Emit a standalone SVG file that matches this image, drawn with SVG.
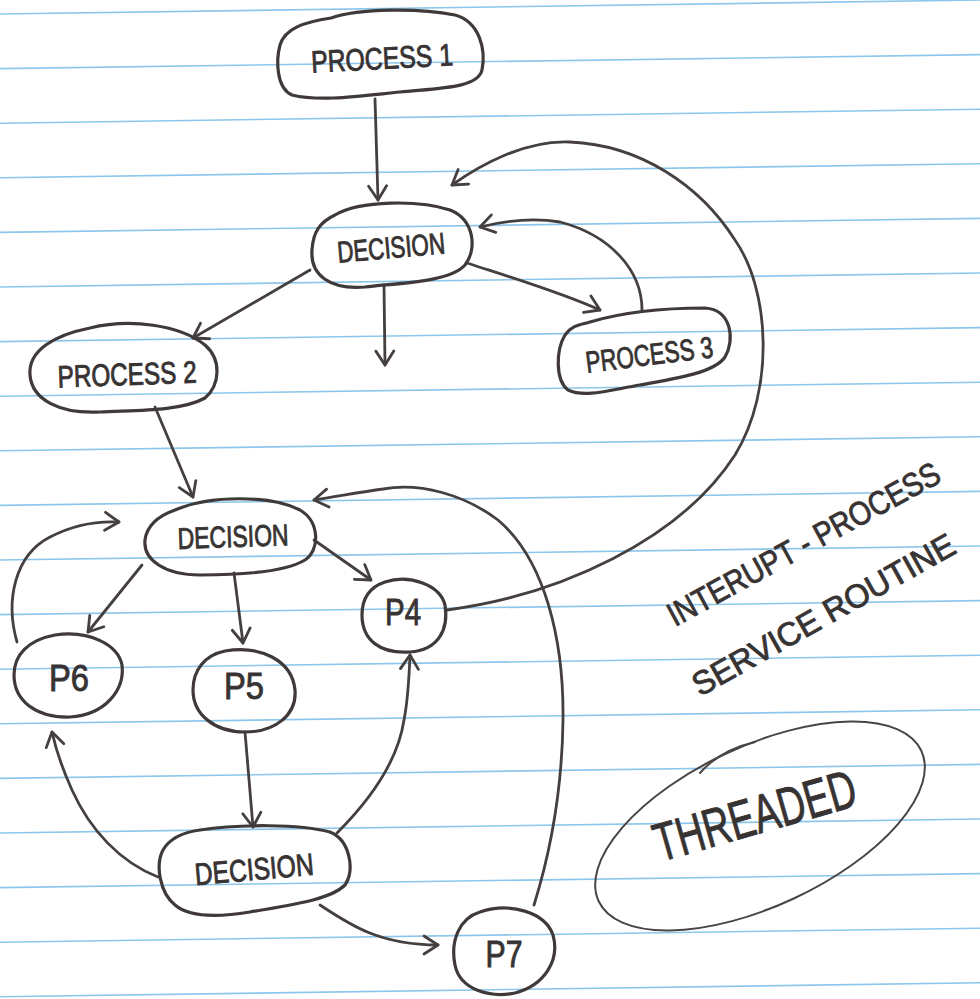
<svg xmlns="http://www.w3.org/2000/svg" width="980" height="999" viewBox="0 0 980 999">
<defs>
<style>
.rule{stroke:#8cc6ea;stroke-width:1.6;fill:none}
.ink{fill:none;stroke:#3f3a39;stroke-width:3.2;stroke-linecap:round;stroke-linejoin:round}
.edge{fill:none;stroke:#45403f;stroke-width:2.8;stroke-linecap:round;marker-end:url(#ah)}
.lbl{font-family:"Liberation Sans","DejaVu Sans",Arial,sans-serif;fill:#383333;stroke:#383333;stroke-width:0.9}
.thin{fill:none;stroke:#4a4545;stroke-width:2;stroke-linecap:round}
</style>
<marker id="ah" markerUnits="userSpaceOnUse" markerWidth="34" markerHeight="34" viewBox="-17 -17 34 34" refX="0" refY="0" orient="auto" overflow="visible">
<path d="M -14,-9 L 0,0 L -14,9" fill="none" stroke="#45403f" stroke-width="2.8" stroke-linecap="round" stroke-linejoin="round"/>
</marker>
</defs>
<rect width="980" height="999" fill="#ffffff"/>
<g id="paper">
<path class="rule" d="M0,14 L980,0"/>
<path class="rule" d="M0,68.6 L980,54.6"/>
<path class="rule" d="M0,123.2 L980,109.2"/>
<path class="rule" d="M0,177.8 L980,163.8"/>
<path class="rule" d="M0,232.4 L980,218.4"/>
<path class="rule" d="M0,287 L980,273"/>
<path class="rule" d="M0,341.6 L980,327.6"/>
<path class="rule" d="M0,396.2 L980,382.2"/>
<path class="rule" d="M0,450.8 L980,436.8"/>
<path class="rule" d="M0,505.4 L980,491.4"/>
<path class="rule" d="M0,560 L980,546"/>
<path class="rule" d="M0,614.6 L980,600.6"/>
<path class="rule" d="M0,669.2 L980,655.2"/>
<path class="rule" d="M0,723.8 L980,709.8"/>
<path class="rule" d="M0,778.4 L980,764.4"/>
<path class="rule" d="M0,833 L980,819"/>
<path class="rule" d="M0,887.6 L980,873.6"/>
<path class="rule" d="M0,942.2 L980,928.2"/>
<path class="rule" d="M0,996.8 L980,982.8"/>
</g>
<g id="connectors">
<path class="edge" d="M375,99 L378,200"/>
<path class="edge" d="M310,270 L193,338"/>
<path class="edge" d="M384,285 L385,365"/>
<path class="edge" d="M467,263 C510,277 560,292 600,310"/>
<path class="edge" d="M642,310 C642,270 610,235 560,222 C530,217 500,222 480,227"/>
<path class="edge" d="M447,610 C560,595 680,540 735,455 C775,390 770,290 735,240 C700,185 640,145 570,142 C525,140 480,165 452,185"/>
<path class="edge" d="M155,407 L193,497"/>
<path class="edge" d="M142,565 L88,632"/>
<path class="edge" d="M17,642 C5,600 15,555 50,537 C75,524 100,521 119,522"/>
<path class="edge" d="M234,573 L243,643"/>
<path class="edge" d="M314,540 L371,580"/>
<path class="edge" d="M534,905 C548,860 562,800 563,720 C564,640 545,560 498,520 C465,495 420,482 383,489 C360,492 335,497 314,500"/>
<path class="edge" d="M245,732 L253,827"/>
<path class="edge" d="M158,877 C120,862 90,830 72,790 C62,768 56,750 52,732"/>
<path class="edge" d="M337,833 C370,800 398,760 404,720 C408,700 409,680 410,655"/>
<path class="edge" d="M320,905 C350,925 380,945 438,945"/>
</g>
<g id="process1">
<path class="ink" d="M331,18 C360,8 420,8 455,15 C480,22 486,50 482,70 C478,88 440,88 400,92 C360,96 320,102 292,95 C276,88 276,60 280,45 C285,28 305,22 331,18 Z"/>
<text class="lbl" x="382" y="69" font-size="31" text-anchor="middle" textLength="142" lengthAdjust="spacingAndGlyphs" transform="rotate(-3 382 58)">PROCESS 1</text>
</g>
<g id="decision1">
<path class="ink" d="M335,215 C360,200 420,200 450,210 C475,220 477,250 465,265 C450,282 400,283 365,287 C330,290 310,275 312,250 C313,232 320,222 335,215 Z"/>
<text class="lbl" x="391" y="258" font-size="30" text-anchor="middle" textLength="108" lengthAdjust="spacingAndGlyphs" transform="rotate(-5 391 247)">DECISION</text>
</g>
<g id="process2">
<path class="ink" d="M90,328 C130,318 180,325 205,345 C222,360 220,385 205,398 C180,412 130,410 100,412 C60,414 32,400 30,375 C28,350 55,335 90,328 Z"/>
<text class="lbl" x="127" y="385" font-size="31" text-anchor="middle" textLength="139" lengthAdjust="spacingAndGlyphs" transform="rotate(-2 127 372)">PROCESS 2</text>
</g>
<g id="process3">
<path class="ink" d="M590,322 C630,310 680,308 705,308 C732,310 735,340 725,357 C715,372 680,378 640,385 C610,390 585,398 568,390 C555,380 556,350 565,335 C572,325 580,325 590,322 Z"/>
<text class="lbl" x="649" y="365" font-size="30" text-anchor="middle" textLength="128" lengthAdjust="spacingAndGlyphs" transform="rotate(-7 649 353)">PROCESS 3</text>
</g>
<g id="decision2">
<path class="ink" d="M175,510 C210,495 270,495 300,510 C320,522 320,550 305,560 C285,572 240,575 200,575 C165,575 143,560 145,540 C147,525 158,516 175,510 Z"/>
<text class="lbl" x="233" y="547" font-size="30" text-anchor="middle" textLength="111" lengthAdjust="spacingAndGlyphs" transform="rotate(-2 233 535)">DECISION</text>
</g>
<g id="p4">
<path class="ink" d="M385,582 C410,574 440,585 445,605 C449,630 438,650 410,652 C380,654 362,640 362,615 C362,598 370,587 385,582 Z"/>
<text class="lbl" x="403" y="625" font-size="36" text-anchor="middle" textLength="36" lengthAdjust="spacingAndGlyphs">P4</text>
</g>
<g id="p6">
<path class="ink" d="M55,635 C90,630 118,645 122,665 C125,690 105,715 70,717 C35,718 14,700 14,675 C14,655 28,640 55,635 Z"/>
<text class="lbl" x="69" y="691" font-size="36" text-anchor="middle" textLength="40" lengthAdjust="spacingAndGlyphs">P6</text>
</g>
<g id="p5">
<path class="ink" d="M225,651 C260,645 292,660 295,690 C297,715 275,732 245,732 C215,732 193,715 193,690 C193,670 205,655 225,651 Z"/>
<text class="lbl" x="244" y="699" font-size="36" text-anchor="middle" textLength="40" lengthAdjust="spacingAndGlyphs">P5</text>
</g>
<g id="decision3">
<path class="ink" d="M200,830 C240,824 300,824 330,832 C350,840 355,870 345,885 C330,900 290,905 250,912 C220,917 190,918 175,905 C160,893 155,865 163,850 C170,838 185,832 200,830 Z"/>
<text class="lbl" x="254" y="880" font-size="31" text-anchor="middle" textLength="119" lengthAdjust="spacingAndGlyphs" transform="rotate(-5 254 867)">DECISION</text>
</g>
<g id="p7">
<path class="ink" d="M480,912 C510,902 545,912 553,935 C560,960 545,985 515,993 C490,998 460,990 455,965 C450,940 460,918 480,912 Z"/>
<text class="lbl" x="504" y="967" font-size="36" text-anchor="middle" textLength="37" lengthAdjust="spacingAndGlyphs">P7</text>
</g>
<g id="notes">
<text class="lbl" font-size="33" transform="translate(675,627) rotate(-28.6) scale(0.86,1)">INTERUPT - PROCESS</text>
<text class="lbl" font-size="33" transform="translate(700,697) rotate(-29.3) scale(0.98,1)">SERVICE ROUTINE</text>
</g>
<g id="threaded">
<ellipse class="thin" cx="760" cy="826" rx="178" ry="80" transform="rotate(-25 760 826)"/>
<path class="thin" d="M700,773 Q720,750 755,742"/>
<text class="lbl" font-size="54" textLength="208" lengthAdjust="spacingAndGlyphs" transform="translate(660,862) rotate(-16)">THREADED</text>
</g>
</svg>
